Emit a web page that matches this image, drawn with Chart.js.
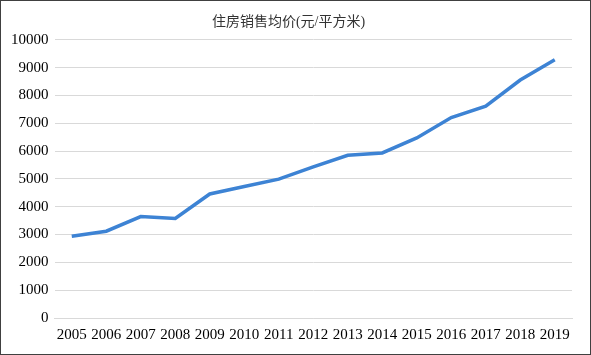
<!DOCTYPE html>
<html>
<head>
<meta charset="utf-8">
<script src="https://cdn.jsdelivr.net/npm/chart.js@4"></script>
<style>
  html, body { margin: 0; padding: 0; background: #fff; }
  #wrap {
    position: absolute; left: 0; top: 0;
    width: 589px; height: 353px;
    border: 1px solid #404040;
  }
</style>
</head>
<body>
<div id="wrap"><canvas id="chart" width="589" height="353"></canvas></div>
<script>
const years = ["2005","2006","2007","2008","2009","2010","2011","2012","2013","2014","2015","2016","2017","2018","2019"];
const avgPrice = [2937, 3119, 3645, 3576, 4459, 4725, 4993, 5430, 5850, 5933, 6473, 7203, 7614, 8553, 9287];
const chartTitle = "住房销售均价(元/平方米)";

const fontFamily = '"Liberation Serif", "Noto Sans CJK SC", serif';

const ctx = document.getElementById("chart").getContext("2d");
new Chart(ctx, {
  type: "line",
  data: {
    labels: years,
    datasets: [
      {
        label: chartTitle,
        data: avgPrice,
        borderColor: "#3d83d4",
        borderWidth: 3.5,
        pointRadius: 0,
        fill: false,
        tension: 0,
      },
    ],
  },
  options: {
    responsive: false,
    animation: false,
    layout: { padding: { left: 4, right: 18, top: 4, bottom: 2 } },
    plugins: {
      legend: { display: false },
      tooltip: { enabled: false },
      title: {
        display: true,
        text: chartTitle,
        color: "#333",
        font: { family: fontFamily, size: 14, weight: "normal" },
        padding: { top: 9, bottom: 9 },
      },
    },
    scales: {
      x: {
        offset: true,
        grid: { display: false, drawTicks: false },
        border: { display: true, color: "#d9d9d9", width: 1 },
        ticks: {
          color: "#000",
          font: { family: fontFamily, size: 15 },
          maxRotation: 0,
          autoSkip: false,
          padding: 8,
        },
      },
      y: {
        min: 0,
        max: 10000,
        grid: { color: "#d9d9d9", lineWidth: 1, drawTicks: false },
        border: { display: false },
        ticks: {
          stepSize: 1000,
          color: "#000",
          font: { family: fontFamily, size: 15 },
          padding: 6,
          callback: (v) => String(v),
        },
      },
    },
  },
});
</script>
</body>
</html>
